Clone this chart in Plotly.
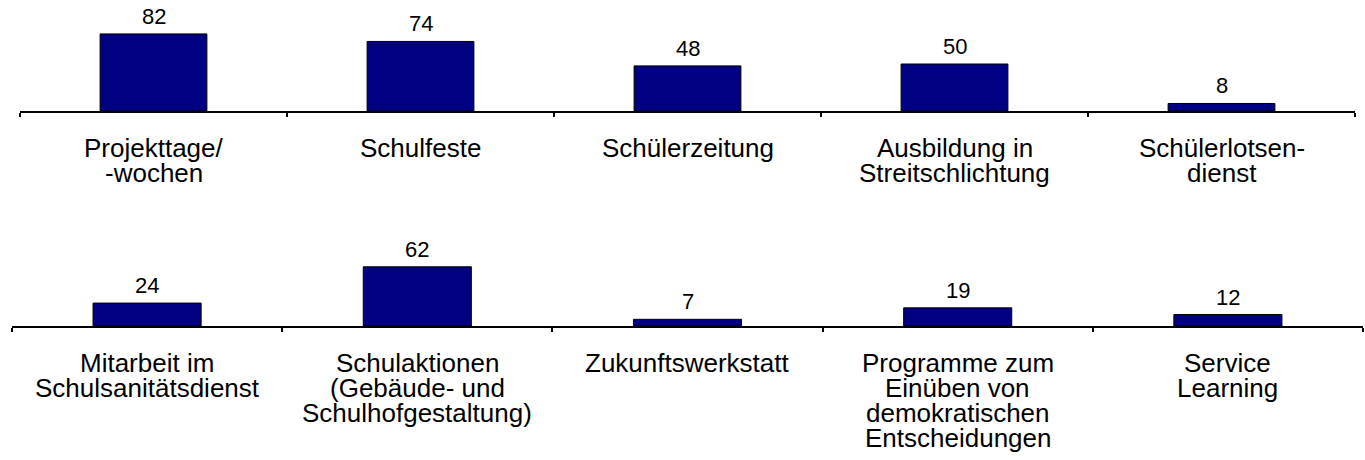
import plotly.graph_objects as go

# --- data ---
top_categories = ["Projekttage/<br>-wochen", "Schulfeste", "Schülerzeitung",
                  "Ausbildung in<br>Streitschlichtung", "Schülerlotsen-<br>dienst"]
top_values = [82, 74, 48, 50, 8]

bottom_categories = ["Mitarbeit im<br>Schulsanitätsdienst",
                     "Schulaktionen<br>(Gebäude- und<br>Schulhofgestaltung)",
                     "Zukunftswerkstatt",
                     "Programme zum<br>Einüben von<br>demokratischen<br>Entscheidungen",
                     "Service<br>Learning"]
bottom_values = [24, 62, 7, 19, 12]

W, H = 1365, 460
FONT = "Liberation Sans, Arial, sans-serif"
BAR_COLOR = "#000080"


def px_x(x):
    return x / W


def px_y(y):
    return (H - y) / H


fig = go.Figure()

rows = [
    dict(cats=top_categories, vals=top_values, xa="x", ya="y",
         xl=20, xr=1355, base_px=111, top_px=8, ppu=0.94),
    dict(cats=bottom_categories, vals=bottom_values, xa="x2", ya="y2",
         xl=12, xr=1363, base_px=326, top_px=230, ppu=0.955),
]

annotations = []
layout_axes = {}
for i, r in enumerate(rows):
    idx = list(range(len(r["cats"])))
    fig.add_trace(go.Bar(
        x=idx, y=r["vals"], xaxis=r["xa"], yaxis=r["ya"],
        width=0.4, marker=dict(color=BAR_COLOR, line=dict(color="#000000", width=1)),
        showlegend=False, hoverinfo="skip",
    ))
    ydom = [px_y(r["base_px"]), px_y(r["top_px"])]
    yrange = [0, (r["base_px"] - r["top_px"]) / r["ppu"]]
    sfx = "" if i == 0 else str(i + 1)
    layout_axes["xaxis" + sfx] = dict(
        domain=[px_x(r["xl"]), px_x(r["xr"])], range=[-0.5, len(idx) - 0.5], anchor=r["ya"],
        type="linear", tickmode="array", tickvals=[k - 0.5 for k in range(len(idx) + 1)],
        showticklabels=False, ticks="outside", ticklen=4, tickwidth=1.5, tickcolor="#000000",
        showline=True, linecolor="#000000", linewidth=1.5, showgrid=False, zeroline=False,
        fixedrange=True,
    )
    layout_axes["yaxis" + sfx] = dict(
        domain=ydom, range=yrange, anchor=r["xa"], visible=False, showgrid=False,
        zeroline=False, fixedrange=True,
    )
    for k, (c, v) in enumerate(zip(r["cats"], r["vals"])):
        annotations.append(dict(
            x=k, y=v, xref=r["xa"], yref=r["ya"], text=str(v), showarrow=False,
            yanchor="bottom", yshift=3, font=dict(family=FONT, size=22, color="#000000"),
        ))
        for j, line in enumerate(c.split("<br>")):
            annotations.append(dict(
                x=k, y=0, xref=r["xa"], yref=r["ya"], text=line, showarrow=False,
                yanchor="top", yshift=-(20 + 25 * j),
                font=dict(family=FONT, size=26, color="#000000"),
            ))

fig.update_layout(
    width=W, height=H, margin=dict(l=0, r=0, t=0, b=0),
    paper_bgcolor="white", plot_bgcolor="white",
    annotations=annotations, bargap=0.6,
    **layout_axes,
)

fig.write_html(
    "out.html",
    config={"displayModeBar": False},
    post_script="document.body.style.margin='0';document.body.style.overflow='hidden';",
)
